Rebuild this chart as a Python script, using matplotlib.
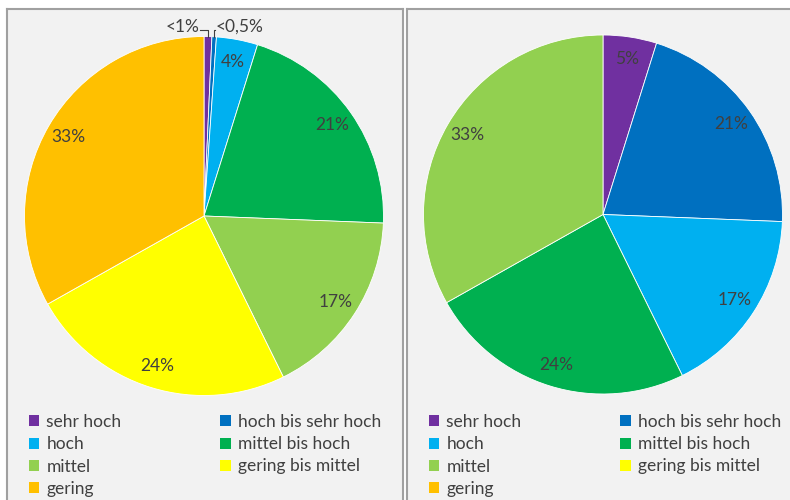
import matplotlib
matplotlib.use("Agg")
import matplotlib.pyplot as plt
import numpy as np
from matplotlib.patches import Patch

plt.rcParams["font.family"] = ["Lato", "DejaVu Sans"]

# legend categories (shared by both panels)
categories = ["sehr hoch", "hoch bis sehr hoch", "hoch", "mittel bis hoch",
              "mittel", "gering bis mittel", "gering"]
colors = ["#7030a0", "#0070c0", "#00b0f0", "#00b050",
          "#92d050", "#ffff00", "#ffc000"]

# left pie
left_values = [0.7, 0.4, 3.7, 20.7, 17, 24, 33]
left_labels = ["<1%", "<0,5%", "4%", "21%", "17%", "24%", "33%"]

# right pie
right_cats = ["sehr hoch", "hoch bis sehr hoch", "hoch", "mittel bis hoch", "mittel"]
right_values = [4.8, 20.7, 17, 24, 33]
right_labels = ["5%", "21%", "17%", "24%", "33%"]

W, H = 790, 500
FS = 12.5
TXT = "#404040"
BG = "#f2f2f2"

fig = plt.figure(figsize=(7.9, 5.0), dpi=100)
fig.patch.set_facecolor("white")


def px_axes(x0, y0, w, h):
    return fig.add_axes([x0 / W, 1 - (y0 + h) / H, w / W, h / H])


# panel frames
for x0, w in [(7, 396), (407, 400)]:
    pa = px_axes(x0, 9, w, 500)
    pa.set_facecolor(BG)
    pa.set_xticks([])
    pa.set_yticks([])
    for s in pa.spines.values():
        s.set_color("#a0a0a0")
        s.set_linewidth(1.5)

cmap = dict(zip(categories, colors))


def draw_pie(cx, cy, r, values, cats, labels, small=0):
    ax = px_axes(cx - r, cy - r, 2 * r, 2 * r)
    ax.set_facecolor("none")
    wedges, _ = ax.pie(values, colors=[cmap[c] for c in cats], startangle=90,
                       counterclock=False, radius=1,
                       wedgeprops=dict(edgecolor="white", linewidth=0.6))
    ax.set_xlim(-1, 1)
    ax.set_ylim(-1, 1)
    ax.set_aspect("equal")
    ax.axis("off")
    for i, (w, lab) in enumerate(zip(wedges, labels)):
        if i < small:
            continue
        ang = np.deg2rad((w.theta1 + w.theta2) / 2)
        ax.text(0.875 * np.cos(ang), 0.875 * np.sin(ang), lab, ha="center",
                va="center", fontsize=FS, color=TXT)
    return ax, wedges


axl, wl = draw_pie(204, 216, 179.5, left_values, categories, left_labels, small=2)
# tiny slices get leader lines
for i, (tx, ha) in enumerate([(-0.02, "right"), (0.06, "left")]):
    w = wl[i]
    ang = np.deg2rad((w.theta1 + w.theta2) / 2)
    x = np.cos(ang)
    axl.plot([x, x, tx], [1.0, 1.035, 1.035], color=TXT, lw=0.8, clip_on=False)
    axl.text(tx + (0.005 if ha == "left" else -0.005), 1.055, left_labels[i],
             ha=ha, va="center", fontsize=FS, color=TXT, clip_on=False)

axr, wr = draw_pie(603, 214.5, 179.5, right_values, right_cats, right_labels)

# legends: column-first fill to mimic row-wise order
order = [0, 2, 4, 6, 1, 3, 5]
handles = [Patch(facecolor=colors[i], edgecolor="none") for i in order]
names = [categories[i] for i in order]
for x0 in [29, 429]:
    fig.legend(handles, names, ncol=2, loc="upper left",
               bbox_to_anchor=(x0 / W, 1 - 414 / H), frameon=False,
               fontsize=FS, labelcolor=TXT, handlelength=0.6,
               handleheight=0.6, handletextpad=0.4, columnspacing=5.7,
               labelspacing=0.36, borderaxespad=0, borderpad=0)

fig.savefig("out.png", dpi=100, facecolor=fig.get_facecolor())
